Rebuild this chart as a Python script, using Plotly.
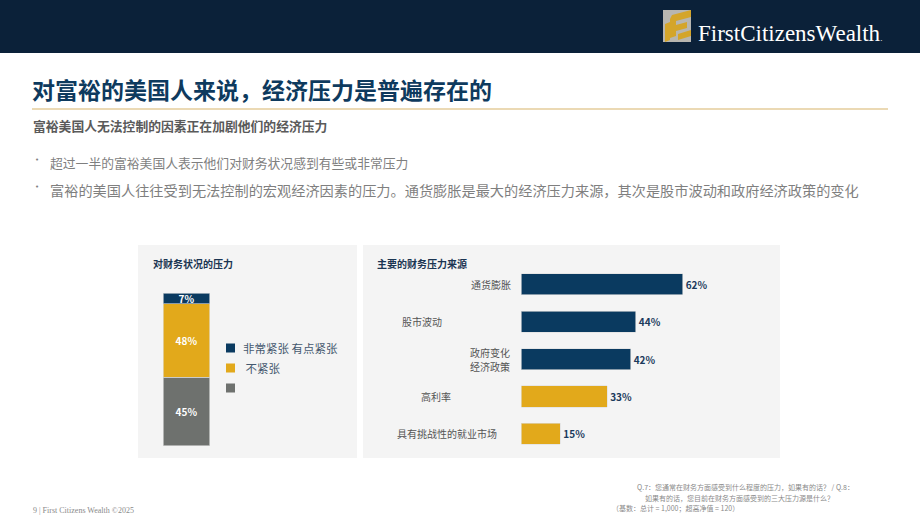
import plotly.graph_objects as go

# ---------------- data ----------------
stack_category = ["财务压力"]
stack_names = ["不紧张", "有点紧张", "非常紧张"]          # bottom -> top
stack_values = [45, 48, 7]
stack_colors = ["#6e716e", "#e2a91b", "#0a3a60"]
legend_labels = ["非常紧张 有点紧张", " 不紧张", ""]          # as shown in the reference legend
legend_colors = ["#0a3a60", "#e2a91b", "#6e716e"]

source_labels = ["通货膨胀", "股市波动", "政府变化 经济政策", "高利率", "具有挑战性的就业市场"]
source_values = [62, 44, 42, 33, 15]
source_colors = ["#0a3a60", "#0a3a60", "#0a3a60", "#e2a91b", "#e2a91b"]

title_text = "对富裕的美国人来说，经济压力是普遍存在的"
subtitle_text = "富裕美国人无法控制的因素正在加剧他们的经济压力"
bullets = [
    "超过一半的富裕美国人表示他们对财务状况感到有些或非常压力",
    "富裕的美国人往往受到无法控制的宏观经济因素的压力。通货膨胀是最大的经济压力来源，其次是股市波动和政府经济政策的变化",
]
left_panel_title = "对财务状况的压力"
right_panel_title = "主要的财务压力来源"
footnote_lines = [
    "Q.7：您通常在财务方面感受到什么程度的压力，如果有的话？ / Q.8：",
    "如果有的话，您目前在财务方面感受到的三大压力源是什么？",
    "（基数：总计 = 1,000；超高净值 = 120）",
]
footer_text = "9 | First Citizens Wealth ©2025"

# ---------------- layout helpers ----------------
W, H = 920, 518
def X(px):
    return px / W
def Y(py):
    return 1 - py / H

CJK = "Noto Sans CJK SC"

fig = go.Figure()

# left stacked bar
for name, val, col in zip(stack_names, stack_values, stack_colors):
    fig.add_trace(go.Bar(
        x=stack_category, y=[val], name=name, width=1,
        marker=dict(color=col, line=dict(color="#dcdcdc", width=0.6)),
        text=[f"<b>{val}%</b>"], textposition="inside", insidetextanchor="middle", textangle=0,
        textfont=dict(family=CJK, size=10, color="white"),
        xaxis="x", yaxis="y", showlegend=False, hoverinfo="skip",
    ))

# right horizontal bars
fig.add_trace(go.Bar(
    y=source_labels, x=source_values, orientation="h", width=0.565,
    marker=dict(color=source_colors, line=dict(color="#dcdcdc", width=0.6)),
    text=[f"<b>{v}%</b>" for v in source_values], textposition="outside",
    textfont=dict(family=CJK, size=10, color="#1b3a5c"),
    cliponaxis=False, xaxis="x2", yaxis="y2", showlegend=False, hoverinfo="skip",
))

shapes = []
# header band
shapes.append(dict(type="rect", xref="paper", yref="paper", x0=0, x1=1, y0=Y(53), y1=1,
                   fillcolor="#0b2139", line=dict(width=0), layer="below"))
# logo icon
shapes.append(dict(type="rect", xref="paper", yref="paper", x0=X(663), x1=X(691), y0=Y(42), y1=Y(10),
                   fillcolor="#b8b6b0", line=dict(width=0)))
def path(pts):
    s = "M " + " L ".join(f"{X(a)},{Y(b)}" for a, b in pts) + " Z"
    return dict(type="path", xref="paper", yref="paper", path=s, fillcolor="#d4a52a", line=dict(width=0))
shapes.append(path([(672, 15), (691, 10), (691, 17), (676, 21), (676, 25), (687, 22), (687, 28), (676, 31), (676, 36), (670, 38), (670, 19)]))
shapes.append(path([(665, 24), (670, 22), (670, 40), (665, 42)]))
shapes.append(path([(678, 34), (691, 30), (691, 36), (678, 40)]))
# gold rule
shapes.append(dict(type="line", xref="paper", yref="paper", x0=X(32), x1=X(888), y0=Y(109), y1=Y(109),
                   line=dict(color="#d8b46a", width=1.2)))
# panels
shapes.append(dict(type="rect", xref="paper", yref="paper", x0=X(138), x1=X(357), y0=Y(458), y1=Y(245),
                   fillcolor="#f4f4f4", line=dict(width=0), layer="below"))
shapes.append(dict(type="rect", xref="paper", yref="paper", x0=X(363), x1=X(780), y0=Y(458), y1=Y(245),
                   fillcolor="#f4f4f4", line=dict(width=0), layer="below"))
# manual legend squares
legend_y = [348, 368, 388]
for yy, col in zip(legend_y, legend_colors):
    shapes.append(dict(type="rect", xref="paper", yref="paper", x0=X(226), x1=X(235), y0=Y(yy + 4.5), y1=Y(yy - 4.5),
                       fillcolor=col, line=dict(width=0)))

ann = []
def text(x, y, s, size, color, family=CJK, xanchor="left", bold=False):
    ann.append(dict(x=X(x), y=Y(y), xref="paper", yref="paper",
                    text=(f"<b>{s}</b>" if bold else s), showarrow=False,
                    xanchor=xanchor, yanchor="middle",
                    font=dict(family=family, size=size, color=color)))

# logo text
text(696, 34, "FirstCitizensWealth<span style='font-size:9px'>.</span>", 23, "white", family="Liberation Serif")
# title / subtitle
text(30, 89, title_text, 23, "#0e3a5e", bold=True)
text(31, 126, subtitle_text, 12.8, "#5a5a5a", bold=True)
# bullets
for yy, s, sz in zip([163, 190], bullets, [12.8, 14.2]):
    text(33, yy - 3, "•", 7, "#808080", family="DejaVu Sans")
    text(48, yy, s, sz, "#7f7f7f")
# panel titles
text(151, 263, left_panel_title, 10, "#1b3552", bold=True)
text(375, 263, right_panel_title, 10, "#1b3552", bold=True)
# legend labels
for yy, s in zip(legend_y, legend_labels):
    if s:
        text(241, yy, s, 11.5, "#44586e")
# right tick labels (positioned like the original; multi-word label split over two lines)
label_center_px = [491, 422, 490, 436, 447]
for lab, cx in zip(source_labels, label_center_px):
    parts = lab.split(" ")
    n = len(parts)
    for i, part in enumerate(parts):
        ann.append(dict(x=X(cx), y=lab, xref="paper", yref="y2", text=part, showarrow=False,
                        xanchor="center", yanchor="middle", yshift=(n - 1) * 7 - i * 14,
                        font=dict(family=CJK, size=10, color="#555555")))
# footnote
text(856, 487, footnote_lines[0], 7, "#8a8a8a", xanchor="right")
text(836, 498, footnote_lines[1], 7, "#8a8a8a", xanchor="right")
text(610, 508, footnote_lines[2], 7, "#8a8a8a")
# footer
text(31, 510, footer_text, 8, "#8a8a8a", family="Liberation Serif")

fig.update_layout(
    width=W, height=H, margin=dict(l=0, r=0, t=0, b=0),
    paper_bgcolor="white", plot_bgcolor="rgba(0,0,0,0)",
    barmode="stack", showlegend=False,
    uniformtext=dict(minsize=10, mode="show"),
    xaxis=dict(domain=[X(163.3), X(209.7)], range=[-0.5, 0.5], visible=False, fixedrange=True),
    yaxis=dict(domain=[Y(446), Y(293.3)], range=[0, 100], visible=False, fixedrange=True),
    xaxis2=dict(domain=[X(521.3), X(781.6)], range=[0, 100], visible=False, anchor="y2"),
    yaxis2=dict(domain=[Y(452.6), Y(265.6)], autorange="reversed", showticklabels=False,
                showgrid=False, zeroline=False, showline=False, ticks="", anchor="x2"),
    shapes=shapes, annotations=ann,
)

fig.write_html("out.html")
